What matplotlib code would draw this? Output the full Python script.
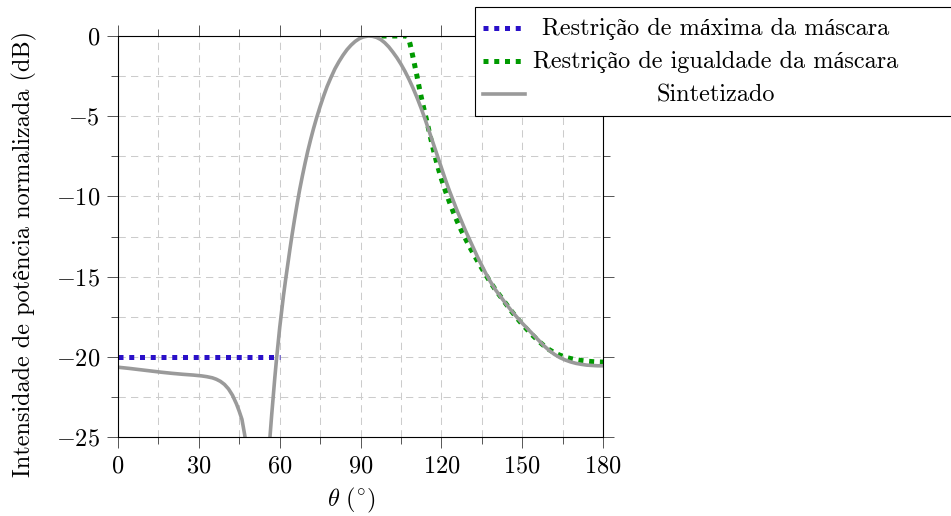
import numpy as np
import matplotlib
matplotlib.use("Agg")
import matplotlib.pyplot as plt
from matplotlib.lines import Line2D
from matplotlib.patches import Rectangle
from matplotlib.ticker import MultipleLocator

plt.rcParams["font.family"] = ["cmr10", "Liberation Serif"]
plt.rcParams["mathtext.fontset"] = "cm"
plt.rcParams["axes.formatter.use_mathtext"] = True
plt.rcParams["font.size"] = 17.5

# restricao de maxima da mascara
max_theta = [0, 60]
max_db = [-20, -20]

# restricao de igualdade da mascara
eq_theta = [97.8, 107.2, 107.8, 108.4, 109, 109.9, 110.9, 111.6, 112.4, 113.4, 114.4,
            115.8, 117.2, 118.6, 120, 121.5, 123, 124.5, 126, 127.5, 129, 130.5, 132,
            134, 136, 138, 140, 142, 144, 146, 148, 150, 152, 154, 156, 158, 160, 162,
            164, 166, 168, 170, 172, 174, 176, 178, 180]
eq_db = [0, 0, -0.15, -0.5, -0.95, -1.65, -2.45, -3.05, -3.7, -4.45, -5.15,
         -6.2, -7.2, -8.1, -8.9, -9.65, -10.35, -11.0, -11.6, -12.15, -12.65, -13.15, -13.6,
         -14.2, -14.75, -15.3, -15.8, -16.25, -16.7, -17.15, -17.57, -17.97, -18.33, -18.68,
         -19.0, -19.3, -19.55, -19.75, -19.9, -20.02, -20.11, -20.18, -20.23, -20.27, -20.3,
         -20.32, -20.33]

# diagrama sintetizado (nan separa os dois trechos)
syn_theta = [0, 4, 8, 12, 16, 20, 24, 28, 31, 33, 35, 36.5, 38, 39.5, 41, 42.5, 44, 45,
             46, 47, 47.5, 48, np.nan,
             55.8, 56.4, 57.0, 57.6, 58.2, 58.8, 59.4, 60.0, 60.7, 61.4, 62.2, 63.0, 63.8,
             64.6, 65.5, 66.4, 67.4, 68.4, 69.4, 70.4, 71.5, 72.6, 73.8, 75.0, 76.3, 77.6,
             79.0, 80.5, 82.0, 83.5, 85.0, 86.5, 88.0, 89.5, 91.0, 92.5, 93.0,
             94.5, 96, 97.5, 99, 100.5, 102, 103.5, 105, 106.5, 108, 109.5, 111, 112.5,
             114, 115.5, 117, 118.5, 120, 121.5, 123, 124.5, 126, 127.5, 129, 130.5, 132,
             133.5, 135, 136.5, 138, 140, 142, 144, 146, 148, 150, 152, 154, 156, 158,
             160, 162, 164, 166, 168, 170, 172, 174, 176, 178, 180]
syn_db = [-20.65, -20.72, -20.8, -20.88, -20.96, -21.03, -21.09, -21.14, -21.19, -21.24,
          -21.31, -21.4, -21.53, -21.72, -22.0, -22.4, -22.95, -23.4, -23.9, -24.85, -25.4,
          -26.0, np.nan,
          -26.5, -25.0, -23.7, -22.5, -21.3, -20.2, -19.2, -18.2, -17.2, -16.2, -15.2,
          -14.25, -13.3, -12.4, -11.45, -10.55, -9.6, -8.75, -7.95, -7.2, -6.45, -5.75,
          -5.05, -4.4, -3.75, -3.15, -2.6, -2.05, -1.6, -1.2, -0.85, -0.57, -0.34, -0.17,
          -0.06, -0.01, 0,
          -0.02, -0.09, -0.22, -0.42, -0.68, -1.0, -1.35, -1.75, -2.2, -2.7, -3.25, -3.85,
          -4.5, -5.2, -5.95, -6.7, -7.45, -8.2, -8.95, -9.65, -10.3, -10.95, -11.55, -12.15,
          -12.7, -13.25, -13.8, -14.3, -14.8, -15.25, -15.8, -16.25, -16.7, -17.12,
          -17.52, -17.9, -18.25, -18.6, -18.95, -19.3, -19.6, -19.85, -20.05, -20.2,
          -20.32, -20.41, -20.47, -20.52, -20.54, -20.56, -20.56]

labels = ["Restrição de máxima da máscara", "Restrição de igualdade da máscara", "Sintetizado"]
colors = ["#2a10c8", "#009a00", "#9a9a9a"]

W, H = 951, 516
fig = plt.figure(figsize=(W / 100, H / 100), dpi=100)
ax = fig.add_axes([118 / W, 1 - 437 / H, 485 / W, 401 / H])

dots = dict(lw=3.6, linestyle=(0, (1, 1.15)), dash_capstyle="butt")
ax.plot(max_theta, max_db, color=colors[0], **dots)
ax.plot(eq_theta, eq_db, color=colors[1], **dots)
ax.plot(syn_theta, syn_db, color=colors[2], lw=2.6, solid_capstyle="butt", solid_joinstyle="round")

ax.set_xlim(0, 180)
ax.set_ylim(-25, 0)
ax.xaxis.set_major_locator(MultipleLocator(30))
ax.xaxis.set_minor_locator(MultipleLocator(15))
ax.yaxis.set_major_locator(MultipleLocator(5))
ax.yaxis.set_minor_locator(MultipleLocator(2.5))
ax.grid(which="both", color="#cccccc", lw=0.75, linestyle=(0, (7, 5)))
ax.set_axisbelow(True)
ax.tick_params(which="both", direction="out", top=True, right=True, color="#555555", width=0.7)
ax.tick_params(which="major", length=8, pad=5)
ax.tick_params(which="minor", length=5)
for s in ax.spines.values():
    s.set_linewidth(0.8)

ax.set_xlabel(r"$\theta\ (^{\circ})$")
ax.xaxis.set_label_coords((351 - 118) / 485, (437 - 486) / 401)
ax.set_ylabel("Intensidade de potência normalizada (dB)")
ax.yaxis.set_label_coords((37 - 118) / 485, (437 - 254) / 401)

# legenda desenhada a mao para centralizar o texto como no pgfplots
fig.add_artist(Rectangle((475 / W, 1 - 116 / H), 500 / W, 109 / H, transform=fig.transFigure,
                         fill=True, facecolor="white", edgecolor="black", lw=0.8, clip_on=False))
for i, (lab, c) in enumerate(zip(labels, colors)):
    yr = 1 - (28.3 + 33 * i) / H
    if i < 2:
        fig.add_artist(Line2D([483 / W, 525 / W], [yr, yr], transform=fig.transFigure, color=c, **dots))
    else:
        fig.add_artist(Line2D([483 / W, 525 / W], [yr, yr], transform=fig.transFigure, color=c, lw=2.6))
    fig.text(716 / W, yr - 6.7 / H, lab, ha="center", va="baseline")

fig.savefig("out.png", dpi=100)
